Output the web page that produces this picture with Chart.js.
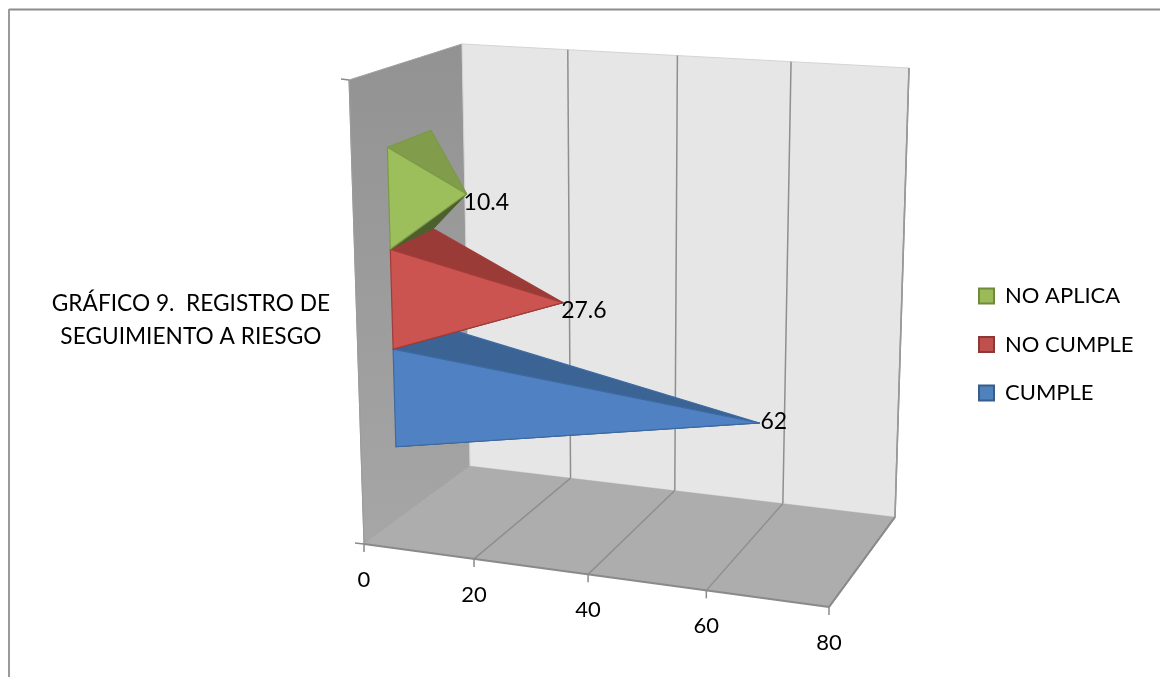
<!DOCTYPE html>
<html lang="es">
<head>
<meta charset="utf-8">
<title>Registro de seguimiento a riesgo</title>
<script src="https://cdn.jsdelivr.net/npm/chart.js@4/dist/chart.umd.min.js"></script>
<style>
    html, body { margin: 0; background: #fff; }
    #wrap { width: 1160px; height: 677px; }
</style>
</head>
<body>
<div id="wrap"><canvas id="grafico" width="1160" height="677"></canvas></div>
<script>
    const categorias = [['GRÁFICO 9.  REGISTRO DE', 'SEGUIMIENTO A RIESGO']];
    const noAplica = [10.4];
    const noCumple = [27.6];
    const cumple = [62];
    const ticksX = [0, 20, 40, 60, 80];

    // Esquinas de la caja 3D en pantalla: frente/fondo, abajo/arriba, valor 0/valor max
    const caja = {
        fa0: [364, 544], fa1: [829, 607],
        fb0: [349, 80],  fb1: [848, 112],
        ba0: [470, 466], ba1: [895, 517],
        bb0: [462, 44],  bb1: [909, 68]
    };
    const FUGA = 0.93;
    const FUGA_ALTO = 0.95;
    const PROF_FRENTE = 0.32;
    const PROF_FONDO = 0.71;
    const PROF_PUNTA = 0.51;
    const FUENTE = 'Lato, "Open Sans", sans-serif';

    // Ajuste fino de cada etiqueta de dato respecto a la punta
    const ajusteEtiqueta = [[-3, 9], [-2, 8], [1, -1]];
    const caras = [
        { frente: '#9cbf5b', arriba: '#819d4b', abajo: '#4c5f2c', borde: '#7b9a45' },
        { frente: '#cb5450', arriba: '#9b3b38', abajo: '#6e2a28', borde: '#a23c39' },
        { frente: '#4f81c3', arriba: '#3b6494', abajo: '#2b4a70', borde: '#3c6aa3' }
    ];

    const mezcla = (a, b, k) => [a[0] + (b[0] - a[0]) * k, a[1] + (b[1] - a[1]) * k];
    const fuga = (k, f) => f * k / (1 + (f - 1) * k);

    // t: fraccion del eje de valores, h: altura, d: profundidad
    function proyectar(t, h, d) {
        const u = fuga(t, FUGA);
        const abajo = mezcla(mezcla(caja.fa0, caja.fa1, u), mezcla(caja.ba0, caja.ba1, u), d);
        const arriba = mezcla(mezcla(caja.fb0, caja.fb1, u), mezcla(caja.bb0, caja.bb1, u), d);
        return mezcla(abajo, arriba, fuga(h, FUGA_ALTO));
    }

    function poligono(ctx, puntos, relleno, borde, grosor) {
        ctx.beginPath();
        puntos.forEach((p, i) => i ? ctx.lineTo(p[0], p[1]) : ctx.moveTo(p[0], p[1]));
        ctx.closePath();
        if (relleno) {
            ctx.fillStyle = relleno;
            ctx.fill();
        }
        if (borde) {
            ctx.strokeStyle = borde;
            ctx.lineWidth = grosor || 1;
            ctx.lineJoin = 'round';
            ctx.stroke();
        }
    }

    function linea(ctx, a, b, color, grosor) {
        ctx.beginPath();
        ctx.moveTo(a[0], a[1]);
        ctx.lineTo(b[0], b[1]);
        ctx.strokeStyle = color;
        ctx.lineWidth = grosor;
        ctx.stroke();
    }

    const fraccion = (escala, valor) => (escala.getPixelForValue(valor) - escala.left) / escala.width;

    const caja3d = {
        id: 'caja3d',
        afterLayout(chart) {
            // La leyenda va separada del area del grafico
            const ley = chart.legend;
            ley.left = 952.5;
            ley.right = 1160;
            ley.top = 258.5;
            ley.bottom = 670;
        },
        beforeDraw(chart) {
            const ctx = chart.ctx;
            const x = chart.scales.x;

            // marco exterior
            ctx.save();
            linea(ctx, [9, 9.5], [1160, 9.5], '#8c8c8c', 2);
            linea(ctx, [9, 9], [9, 677], '#9a9a9a', 2);

            // pared lateral, fondo y piso
            const grad = ctx.createLinearGradient(0, 44, 0, 544);
            grad.addColorStop(0, '#929292');
            grad.addColorStop(1, '#a6a6a6');
            poligono(ctx, [caja.fb0, caja.bb0, caja.ba0, caja.fa0], grad, '#a0a0a0', 1);
            poligono(ctx, [caja.bb0, caja.bb1, caja.ba1, caja.ba0], '#e6e6e6', '#d4d4d4', 1);
            poligono(ctx, [caja.fa0, caja.ba0, caja.ba1, caja.fa1], '#adadad');

            // rejilla sobre fondo y piso
            ticksX.forEach(v => {
                const t = fraccion(x, v);
                if (v > 0) {
                    linea(ctx, proyectar(t, 0, 1), proyectar(t, 1, 1), '#8f8f8f', 1.5);
                    linea(ctx, proyectar(t, 0, 0), proyectar(t, 0, 1), '#8f8f8f', 1.5);
                }
            });
            linea(ctx, caja.fa0, caja.fa1, '#8a8a8a', 2);
            linea(ctx, caja.fb0, caja.fa0, '#9a9a9a', 1);
            linea(ctx, [caja.fb0[0] - 8, caja.fb0[1] - 1], caja.fb0, '#8a8a8a', 1.5);
            linea(ctx, [caja.fa0[0] - 9, caja.fa0[1] - 1], caja.fa0, '#8a8a8a', 1.5);

            // marcas y numeros del eje de valores
            ctx.fillStyle = '#000';
            ctx.font = '22px ' + FUENTE;
            ctx.textAlign = 'center';
            ctx.textBaseline = 'middle';
            ticksX.forEach(v => {
                const p = proyectar(fraccion(x, v), 0, 0);
                linea(ctx, p, [p[0], p[1] + 8], '#8a8a8a', 1.5);
                ctx.fillText(String(v), p[0], p[1] + 36);
            });
            ctx.restore();
        },
        beforeDatasetDraw(chart, args) {
            const ctx = chart.ctx;
            const { x, y } = chart.scales;
            const barra = args.meta.data[0];
            const alto = y.bottom - y.top;
            const h0 = (y.bottom - (barra.y + barra.height / 2)) / alto;
            const h1 = (y.bottom - (barra.y - barra.height / 2)) / alto;
            const hm = (h0 + h1) / 2;
            const tono = caras[args.index];

            const punta = proyectar((barra.x - x.left) / x.width, hm, PROF_PUNTA);
            const frenteAbajo = proyectar(0, h0, PROF_FRENTE);
            const frenteArriba = proyectar(0, h1, PROF_FRENTE);
            const fondoAbajo = proyectar(0, h0, PROF_FONDO);
            const fondoArriba = proyectar(0, h1, PROF_FONDO);

            ctx.save();
            poligono(ctx, [frenteAbajo, fondoAbajo, punta], tono.abajo, tono.abajo, 1);
            poligono(ctx, [frenteArriba, fondoArriba, punta], tono.arriba, tono.borde, 1.2);
            poligono(ctx, [frenteAbajo, frenteArriba, punta], tono.frente, tono.borde, 1.2);
            ctx.restore();
            return false;
        },
        afterDatasetsDraw(chart) {
            const ctx = chart.ctx;
            const { x, y } = chart.scales;
            const alto = y.bottom - y.top;
            ctx.save();
            ctx.fillStyle = '#000';
            ctx.font = '23px ' + FUENTE;
            ctx.textAlign = 'left';
            ctx.textBaseline = 'middle';
            chart.data.datasets.forEach((ds, i) => {
                const barra = chart.getDatasetMeta(i).data[0];
                const punta = proyectar((barra.x - x.left) / x.width, (y.bottom - barra.y) / alto, PROF_PUNTA);
                ctx.fillText(String(ds.data[0]), punta[0] + ajusteEtiqueta[i][0], punta[1] + ajusteEtiqueta[i][1]);
            });

            // bordes del lado derecho, encima de todo
            linea(ctx, caja.bb1, caja.ba1, '#9a9a9a', 1.5);
            linea(ctx, caja.ba1, caja.fa1, '#8a8a8a', 2);
            ctx.restore();
        }
    };

    new Chart(document.getElementById('grafico'), {
        type: 'bar',
        data: {
            labels: categorias,
            datasets: [
                { label: 'NO APLICA', data: noAplica, backgroundColor: '#9bbb59', borderColor: '#71893f', borderWidth: 2 },
                { label: 'NO CUMPLE', data: noCumple, backgroundColor: '#c0504d', borderColor: '#8c3836', borderWidth: 2 },
                { label: 'CUMPLE', data: cumple, backgroundColor: '#4f81bd', borderColor: '#385d8a', borderWidth: 2 }
            ]
        },
        options: {
            indexAxis: 'y',
            responsive: false,
            animation: false,
            categoryPercentage: 0.665,
            barPercentage: 1,
            layout: { padding: { left: 0, right: 126, top: 80, bottom: 0 } },
            plugins: {
                tooltip: { enabled: false },
                legend: {
                    position: 'right',
                    align: 'start',
                    labels: {
                        boxWidth: 15,
                        boxHeight: 15,
                        padding: 26.5,
                        color: '#000',
                        font: { family: FUENTE, size: 22 }
                    }
                }
            },
            scales: {
                x: {
                    min: 0,
                    max: 80,
                    afterBuildTicks(s) { s.ticks = ticksX.map(v => ({ value: v })); },
                    afterFit(s) { s.height = 133; },
                    grid: { display: false },
                    border: { display: false },
                    ticks: { display: false }
                },
                y: {
                    afterFit(s) { s.width = 364; },
                    grid: { display: false, drawTicks: false },
                    border: { display: false },
                    ticks: {
                        crossAlign: 'center',
                        padding: 34,
                        labelOffset: 8,
                        color: '#000',
                        font: { family: FUENTE, size: 22.7, lineHeight: 1.45 }
                    }
                }
            }
        },
        plugins: [caja3d]
    });
</script>
</body>
</html>
